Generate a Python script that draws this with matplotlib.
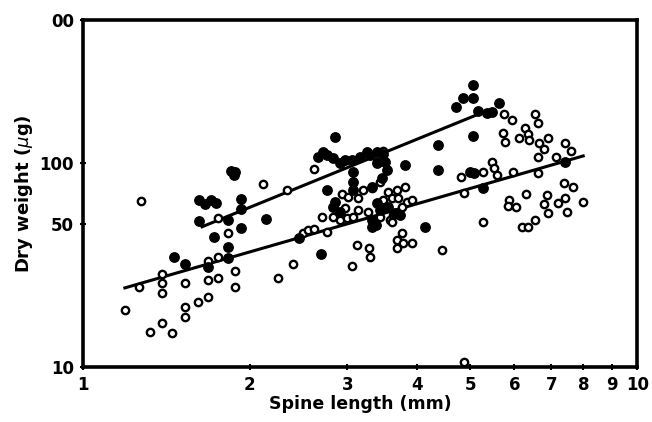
import numpy as np
import matplotlib
matplotlib.use('Agg')
import matplotlib.pyplot as plt
from matplotlib.ticker import FixedLocator, NullLocator

# filled circles: spine length (mm), dry weight (ug)
filled_x = [1.46, 1.53, 1.68, 1.83, 1.83, 1.72, 1.93, 1.62, 1.83, 2.14,
            1.62, 1.66, 1.70, 1.74, 1.93, 1.93, 1.85, 1.88, 1.87, 2.45,
            2.69, 2.85, 2.65, 2.71, 2.76, 2.82, 2.91, 2.97, 3.06, 3.16,
            3.26, 3.30, 3.39, 3.48, 3.39, 3.51, 3.07, 3.07, 3.07, 3.54,
            2.76, 2.85, 2.83, 2.91, 3.32, 3.39, 3.44, 3.55, 3.32, 3.32,
            3.66, 3.73, 3.81, 4.37, 4.37, 4.14, 5.06, 4.85, 4.71, 5.06,
            5.16, 5.36, 5.47, 5.63, 5.06, 4.99, 5.08, 5.27, 7.41, 3.47,
            3.38]
filled_y = [34.6, 31.9, 30.9, 34.2, 38.7, 43.3, 47.9, 51.9, 52.5, 53.1,
            65.7, 62.8, 65.7, 63.6, 66.5, 59.4, 91.2, 90.1, 87.2, 42.8,
            35.8, 134, 107, 113, 109, 106, 99.8, 103, 103, 107,
            113, 109, 113, 110, 99.8, 101, 90.1, 80.6, 73.6, 92.2,
            73.6, 64.3, 60.8, 57.4, 76.1, 63.6, 58.7, 60.8, 52.5, 48.5,
            56.8, 55.5, 97.5, 122, 92.2, 48.5, 240, 208, 188, 208,
            179, 175, 177, 196, 135, 90.1, 89.1, 75.3, 101, 84.2,
            49.6]

# open circles
open_x = [1.19, 1.26, 1.27, 1.39, 1.39, 1.39, 1.39, 1.32, 1.45, 1.53,
          1.53, 1.61, 1.68, 1.53, 1.68, 1.75, 1.88, 1.88, 1.68, 1.75,
          1.83, 1.75, 2.11, 2.25, 2.39, 2.49, 2.55, 2.61, 2.70, 2.33,
          2.61, 2.76, 2.83, 2.91, 3.00, 3.07, 3.14, 2.93, 3.01, 3.14,
          3.20, 3.27, 3.32, 3.44, 3.55, 3.69, 3.81, 3.48, 3.61, 3.70,
          3.85, 3.93, 3.48, 3.77, 3.44, 3.58, 3.63, 3.61, 3.39, 3.48,
          3.77, 3.69, 3.78, 3.93, 3.69, 4.45, 3.12, 3.28, 3.30, 3.06,
          4.87, 5.75, 5.95, 6.54, 6.63, 5.73, 5.78, 6.28, 6.12, 6.36,
          6.38, 6.65, 6.91, 6.79, 6.63, 7.41, 7.60, 7.14, 5.47, 5.52,
          5.59, 5.27, 4.81, 5.97, 6.63, 4.87, 6.30, 5.87, 5.85, 6.05,
          6.88, 6.79, 6.91, 7.20, 7.41, 7.48, 7.38, 7.67, 7.99, 5.27,
          6.20, 6.36, 6.54, 2.97]
open_y = [19.0, 24.6, 65.0, 28.5, 25.8, 23.0, 16.4, 14.8, 14.6, 19.7,
          17.6, 20.8, 22.0, 25.8, 26.7, 27.3, 29.5, 24.6, 33.0, 34.6,
          45.3, 53.7, 78.7, 27.3, 31.9, 45.3, 46.9, 47.4, 54.3, 73.6,
          93.2, 45.8, 54.3, 52.5, 53.7, 54.3, 58.7, 70.3, 68.0, 67.2,
          73.6, 57.4, 75.3, 80.6, 72.0, 73.6, 76.1, 65.7, 67.2, 67.2,
          64.3, 65.7, 60.1, 60.8, 54.3, 52.5, 55.5, 51.3, 101, 114,
          45.3, 41.9, 40.5, 40.5, 38.3, 37.4, 39.6, 38.3, 34.6, 31.2,
          10.6, 173, 162, 173, 157, 140, 126, 148, 132, 138,
          129, 125, 132, 117, 107, 125, 114, 107, 101, 94.3,
          87.2, 90.1, 85.2, 90.1, 89.1, 71.1, 70.3, 65.7, 61.4, 60.8,
          69.6, 62.8, 56.8, 63.6, 67.2, 57.4, 79.6, 76.1, 64.3, 51.3,
          48.5, 48.5, 52.5, 60.1]

# regression lines (end points)
fit_filled_x = [1.64, 5.20]
fit_filled_y = [48.6, 174]
fit_open_x = [1.19, 7.99]
fit_open_y = [24.4, 108]

x_ticks = [1, 2, 3, 4, 5, 6, 7, 8, 9, 10]
x_ticklabels = ['1', '2', '3', '4', '5', '6', '7', '8', '9', '10']
y_ticks = [10, 50, 100, 500]
y_ticklabels = ['10', '50', '100', '00']

fig = plt.figure(figsize=(6.52, 4.22), dpi=100)
ax = fig.add_axes([0.1273, 0.1303, 0.850, 0.8223])
ax.set_xscale('log')
ax.set_yscale('log')
ax.set_xlim(1, 10)
ax.set_ylim(10, 500)

ax.scatter(open_x, open_y, s=28, facecolors='white', edgecolors='black',
           linewidths=1.7, zorder=3)
ax.scatter(filled_x, filled_y, s=46, color='black', zorder=4)
ax.plot(fit_filled_x, fit_filled_y, color='black', lw=2.2, zorder=2)
ax.plot(fit_open_x, fit_open_y, color='black', lw=2.2, zorder=2)

ax.xaxis.set_major_locator(FixedLocator(x_ticks))
ax.xaxis.set_minor_locator(NullLocator())
ax.set_xticklabels(x_ticklabels)
ax.yaxis.set_major_locator(FixedLocator(y_ticks))
ax.yaxis.set_minor_locator(NullLocator())
ax.set_yticklabels(y_ticklabels)

for s in ax.spines.values():
    s.set_linewidth(2.6)
ax.tick_params(direction='inout', length=5, width=1.5, labelsize=12, pad=4)
for lab in ax.get_xticklabels() + ax.get_yticklabels():
    lab.set_fontweight('semibold')

ax.set_xlabel('Spine length (mm)', fontsize=12.5, fontweight='semibold', labelpad=1)
ax.set_ylabel(r'Dry weight ($\mu$g)', fontsize=13, fontweight='semibold', labelpad=3)

fig.savefig('out.png', dpi=100)
